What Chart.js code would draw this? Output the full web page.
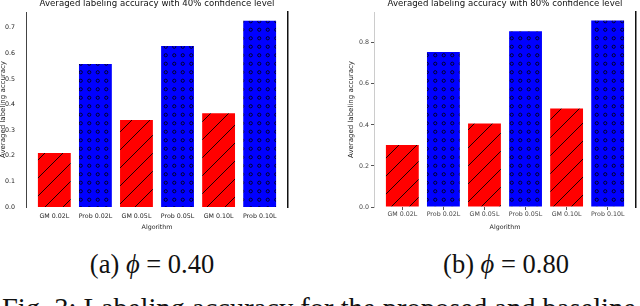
<!DOCTYPE html>
<html>
<head>
<meta charset="utf-8">
<script src="https://cdn.jsdelivr.net/npm/chart.js@4.4.0/dist/chart.umd.min.js"></script>
<style>
  html, body { margin: 0; padding: 0; background: #fff; }
  body { width: 640px; height: 306px; position: relative; overflow: hidden; }
  .panel { position: absolute; top: 0; height: 234px; }
  #left { left: 0; width: 300px; }
  #right { left: 346px; width: 292px; }
  .sub, .fig { position: absolute; font-family: "Liberation Serif", "DejaVu Serif", serif; line-height: 1; white-space: nowrap; color: #111; }
  .sub { top: 251px; font-size: 26.5px; transform: translateX(-50%); }
  .sub .eq { margin: 0 0.25em; }
  .fig { left: 2px; top: 295px; font-size: 28.5px; }
</style>
</head>
<body>
<div class="panel" id="left"><canvas id="chartA"></canvas></div>
<div class="panel" id="right"><canvas id="chartB"></canvas></div>
<div class="sub" style="left:152px">(a) <i>ϕ</i><span class="eq">=</span>0.40</div>
<div class="sub" style="left:506px">(b) <i>ϕ</i><span class="eq">=</span>0.80</div>
<div class="fig">Fig. 3: Labeling accuracy for the proposed and baseline</div>
<script>
var algorithms = ['GM 0.02L', 'Prob 0.02L', 'GM 0.05L', 'Prob 0.05L', 'GM 0.10L', 'Prob 0.10L'];
var accuracy40 = [0.211, 0.559, 0.340, 0.629, 0.366, 0.728];
var accuracy80 = [0.302, 0.755, 0.407, 0.856, 0.480, 0.909];
var yTicks40 = [0.0, 0.1, 0.2, 0.3, 0.4, 0.5, 0.6, 0.7];
var yTicks80 = [0.0, 0.2, 0.4, 0.6, 0.8];

Chart.defaults.font.family = 'DejaVu Sans';

// red bars with '/' hatch
function hatchPattern() {
  var c = document.createElement('canvas');
  c.width = 18; c.height = 18;
  var g = c.getContext('2d');
  g.fillStyle = '#ff0000';
  g.fillRect(0, 0, 18, 18);
  g.strokeStyle = '#000';
  g.lineWidth = 0.9;
  g.beginPath();
  g.moveTo(0, 18); g.lineTo(18, 0);
  g.moveTo(-9, 9); g.lineTo(9, -9);
  g.moveTo(9, 27); g.lineTo(27, 9);
  g.stroke();
  return g.createPattern(c, 'repeat');
}

// blue bars with 'o' hatch
function dotPattern() {
  var c = document.createElement('canvas');
  c.width = 17; c.height = 17;
  var g = c.getContext('2d');
  g.fillStyle = '#0000ff';
  g.fillRect(0, 0, 17, 17);
  g.strokeStyle = '#000';
  g.lineWidth = 0.8;
  [[4.25, 4.25], [12.75, 4.25], [4.25, 12.75], [12.75, 12.75]].forEach(function (p) {
    g.beginPath();
    g.arc(p[0], p[1], 1.6, 0, Math.PI * 2);
    g.stroke();
  });
  return g.createPattern(c, 'repeat');
}

var hatch = hatchPattern();
var dots = dotPattern();

function drawPanel(id, title, values, yMax, yTicks, look) {
  var small = { family: 'DejaVu Sans', size: 6.3 };
  var config = {
    type: 'bar',
    data: {
      datasets: [{
        data: values.map(function (v, i) { return { x: i, y: v }; }),
        backgroundColor: algorithms.map(function (a) { return a.indexOf('GM') === 0 ? hatch : dots; }),
        borderWidth: 0,
        categoryPercentage: 1,
        barPercentage: 0.8,
        xAxisID: 'x',
        yAxisID: 'y'
      }]
    },
    options: {
      responsive: true,
      maintainAspectRatio: false,
      animation: false,
      devicePixelRatio: 1,
      layout: { padding: { left: 0, right: look.rightPad, top: 0, bottom: 0 } },
      plugins: {
        legend: { display: false },
        tooltip: { enabled: false }
      },
      scales: {
        x: {
          type: 'linear',
          offset: false,
          min: -0.69,
          max: 5.69,
          afterBuildTicks: function (scale) {
            scale.ticks = algorithms.map(function (a, i) { return { value: i }; });
          },
          afterFit: function (scale) { scale.height = 27; },
          grid: { display: look.xTicks, offset: false, drawOnChartArea: false, drawTicks: true, tickLength: 3, color: look.tickColor },
          border: { display: false },
          ticks: {
            autoSkip: false,
            maxRotation: 0,
            padding: look.xPad,
            color: look.labelColor,
            font: small,
            callback: function (v) { return algorithms[v]; }
          },
          title: { display: true, text: 'Algorithm', color: '#222', font: small, padding: { top: 0, bottom: 2.6 } }
        },
        // top axis only carries the chart title, centred over the plot
        xTop: {
          type: 'linear',
          position: 'top',
          offset: false,
          min: -0.69,
          max: 5.69,
          afterFit: function (scale) { scale.height = 12; },
          grid: { display: false },
          ticks: { display: false },
          border: { display: false },
          title: {
            display: true,
            text: title,
            color: '#111',
            font: { family: 'DejaVu Sans', size: 8.6 },
            padding: { top: -0.9, bottom: 0 }
          }
        },
        y: {
          min: 0,
          max: yMax,
          afterBuildTicks: function (scale) {
            scale.ticks = yTicks.map(function (v) { return { value: v }; });
          },
          afterFit: function (scale) { scale.width = look.yWidth; },
          grid: { display: look.yTicks, drawOnChartArea: false, drawTicks: true, tickLength: 3, color: look.tickColor },
          border: { display: true, color: look.spineColor, width: 1 },
          ticks: {
            padding: look.yPad,
            color: look.labelColor,
            font: small,
            callback: function (v) { return v.toFixed(1); }
          },
          title: {
            display: true,
            text: 'Averaged labeling accuracy',
            color: '#222',
            font: { family: 'DejaVu Sans', size: 7 },
            padding: { top: look.yTitlePad, bottom: 0 }
          }
        },
        yRight: {
          position: 'right',
          min: 0,
          max: yMax,
          afterFit: function (scale) { scale.width = 0; },
          grid: { display: false },
          ticks: { display: false },
          border: { display: true, color: '#111', width: 1.5 }
        }
      }
    }
  };
  return new Chart(document.getElementById(id).getContext('2d'), config);
}

drawPanel('chartA', 'Averaged labeling accuracy with 40% confidence level', accuracy40, 0.762, yTicks40, {
  rightPad: 12, yWidth: 26, yPad: 8, xPad: 3, xTicks: false, yTicks: false, yTitlePad: -0.7,
  tickColor: '#444', labelColor: '#222', spineColor: '#444'
});
drawPanel('chartB', 'Averaged labeling accuracy with 80% confidence level', accuracy80, 0.95, yTicks80, {
  rightPad: 2, yWidth: 28, yPad: 2, xPad: 1, xTicks: true, yTicks: true, yTitlePad: 1,
  tickColor: '#555', labelColor: '#444', spineColor: '#cccccc'
});
</script>
</body>
</html>
